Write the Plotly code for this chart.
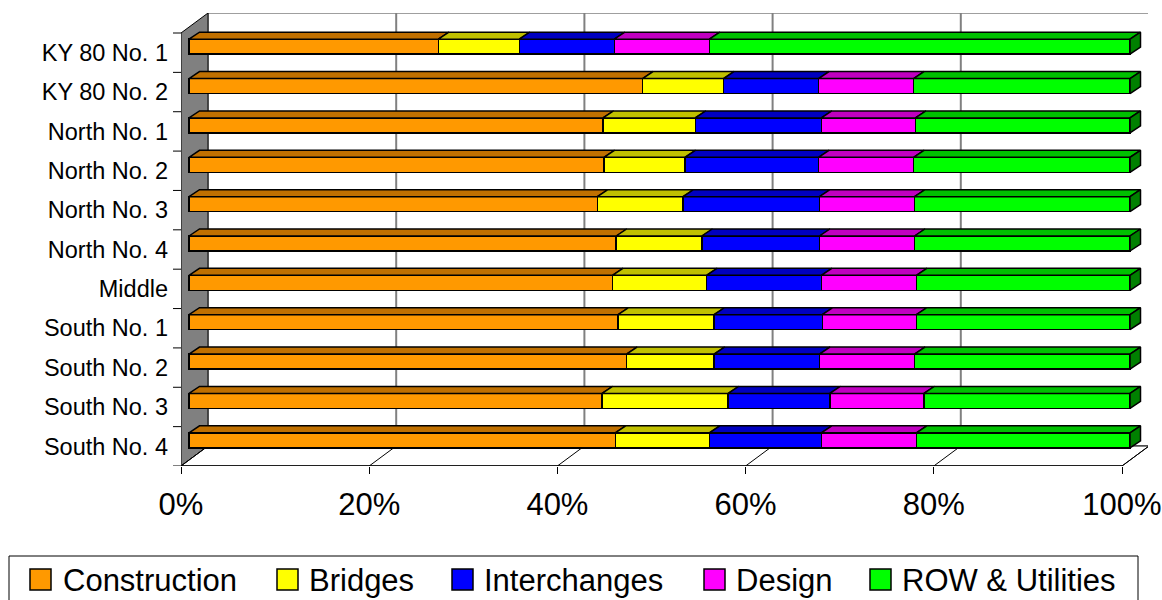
import plotly.graph_objects as go

# ---------------- data ----------------
categories = ["KY 80 No. 1", "KY 80 No. 2", "North No. 1", "North No. 2", "North No. 3",
              "North No. 4", "Middle", "South No. 1", "South No. 2", "South No. 3", "South No. 4"]
construction = [26.5, 48.2, 44.0, 44.1, 43.4, 45.4, 45.0, 45.6, 46.5, 43.9, 45.3]
bridges = [8.6, 8.6, 9.8, 8.6, 9.1, 9.1, 10.0, 10.2, 9.3, 13.4, 10.0]
interchanges = [10.1, 10.1, 13.4, 14.2, 14.5, 12.5, 12.2, 11.5, 11.2, 10.8, 11.9]
design = [10.1, 10.1, 10.0, 10.1, 10.1, 10.1, 10.1, 10.0, 10.1, 10.0, 10.1]
row_utilities = [44.7, 23.0, 22.8, 23.0, 22.9, 22.9, 22.7, 22.7, 22.9, 21.9, 22.7]
series_names = ["Construction", "Bridges", "Interchanges", "Design", "ROW & Utilities"]
x_tick_values = [0, 20, 40, 60, 80, 100]
x_tick_labels = ["0%", "20%", "40%", "60%", "80%", "100%"]

# ---------------- styling ----------------
series_values = [construction, bridges, interchanges, design, row_utilities]
front_colors = ["#FF9900", "#FFFF00", "#0000FF", "#FF00FF", "#00FF00"]
top_colors = ["#C07000", "#C0C000", "#0000C0", "#C000C0", "#00C000"]
side_color = "#008000"
FONT = "Liberation Sans, Arial, sans-serif"

W, H = 1162, 600
PL, PR, PT, PB = 181, 1148, 13, 466          # plot area in pixels
SX = 9.41                                    # px per percent
n = len(categories)
XMAX = (PR - PL) / SX
BX = 27 / SX                                 # back-wall depth offset (x units)
BY_PX = 20
SYU = (PB - PT - BY_PX) / n                  # px per category unit on front plane
BY = BY_PX / SYU
YMAX = n + BY
FX = 8 / SX                                  # bar front-face depth shift
FY = 6 / SYU
DX = 10.5 / SX                               # bar depth
DY = 7 / SYU
BW = 15 / SYU                                # bar thickness

ypos = [n - 1 - i + 0.5 for i in range(n)]   # bar centre positions (top row first)

fig = go.Figure()

# front faces (stacked bars)
for name, vals, col in zip(series_names, series_values, front_colors):
    fig.add_trace(go.Bar(
        x=vals, y=ypos, orientation="h", name=name, width=BW,
        marker=dict(color=col, line=dict(color="black", width=1.5)),
        xaxis="x2", yaxis="y2", showlegend=False,
        hovertemplate="%{x:.1f}%<extra>" + name + "</extra>"))

# top faces
cum = [0.0] * n
for si, (name, vals, topc) in enumerate(zip(series_names, series_values, top_colors)):
    xs, ys = [], []
    for k in range(n):
        x0 = cum[k]
        x1 = x0 + vals[k]
        yt = ypos[k] + BW / 2
        xs += [x0, x1, x1 + DX, x0 + DX, x0, None]
        ys += [yt, yt, yt + DY, yt + DY, yt, None]
        cum[k] = x1
    fig.add_trace(go.Scatter(
        x=xs, y=ys, mode="lines", fill="toself", fillcolor=topc,
        line=dict(color="black", width=1.5), xaxis="x2", yaxis="y2",
        hoverinfo="skip", showlegend=False))

# right side faces of the last segment
xs, ys = [], []
for k in range(n):
    xe = cum[k]
    yb = ypos[k] - BW / 2
    yt = ypos[k] + BW / 2
    xs += [xe, xe, xe + DX, xe + DX, xe, None]
    ys += [yb, yt, yt + DY, yb + DY, yb, None]
fig.add_trace(go.Scatter(
    x=xs, y=ys, mode="lines", fill="toself", fillcolor=side_color,
    line=dict(color="black", width=1.5), xaxis="x2", yaxis="y2",
    hoverinfo="skip", showlegend=False))

# ---------------- frame shapes ----------------
shapes = []
# back wall
shapes.append(dict(type="rect", xref="x", yref="y", x0=BX, x1=100 + BX, y0=BY, y1=n + BY,
                   fillcolor="white", line=dict(color="#404040", width=1), layer="below"))
for v in x_tick_values[1:-1]:
    shapes.append(dict(type="line", xref="x", yref="y", x0=v + BX, x1=v + BX, y0=BY, y1=n + BY,
                       line=dict(color="#808080", width=2), layer="below"))
# left wall
shapes.append(dict(type="path", xref="x", yref="y",
                   path=f"M 0,0 L 0,{n} L {BX},{n + BY} L {BX},{BY} Z",
                   fillcolor="#808080", line=dict(color="black", width=1), layer="below"))
# floor
shapes.append(dict(type="path", xref="x", yref="y",
                   path=f"M 0,0 L {BX},{BY} L {100 + BX},{BY} L 100,0 Z",
                   fillcolor="white", line=dict(color="black", width=1), layer="below"))
for v in x_tick_values:
    shapes.append(dict(type="line", xref="x", yref="y", x0=v, x1=v + BX, y0=0, y1=BY,
                       line=dict(color="black", width=1), layer="below"))
shapes.append(dict(type="line", xref="x", yref="y", x0=0, x1=100, y0=0, y1=0,
                   line=dict(color="black", width=1.5), layer="below"))
# category boundary ticks on the left
for k in range(n + 1):
    shapes.append(dict(type="line", xref="paper", yref="y", x0=-8 / (PR - PL), x1=0, y0=k, y1=k,
                       line=dict(color="black", width=1)))

# ---------------- legend (drawn) ----------------
def pxx(px):
    return (px - PL) / (PR - PL)

def pxy(py):
    return (PB - py) / (PB - PT)

shapes.append(dict(type="rect", xref="paper", yref="paper", x0=pxx(9), x1=pxx(1138),
                   y0=pxy(614), y1=pxy(556), fillcolor="white", line=dict(color="black", width=1)))
sq_left = [30, 277, 452, 704, 870]
txt_left = [63, 309, 484, 736, 902]
annotations = []
for name, col, sx, tx in zip(series_names, front_colors, sq_left, txt_left):
    shapes.append(dict(type="rect", xref="paper", yref="paper", x0=pxx(sx), x1=pxx(sx + 21),
                       y0=pxy(590), y1=pxy(569), fillcolor=col, line=dict(color="black", width=1.5)))
    annotations.append(dict(xref="paper", yref="paper", x=pxx(tx - 2), y=pxy(580), text=name,
                            showarrow=False, xanchor="left", yanchor="middle",
                            font=dict(family=FONT, size=31, color="black")))

fig.update_layout(
    width=W, height=H, autosize=False,
    margin=dict(l=PL, r=W - PR, t=PT, b=H - PB, pad=0, autoexpand=False),
    paper_bgcolor="white", plot_bgcolor="rgba(0,0,0,0)",
    barmode="stack", showlegend=False,
    font=dict(family=FONT, color="black"),
    xaxis=dict(range=[0, XMAX], tickvals=x_tick_values, ticktext=x_tick_labels,
               ticks="outside", ticklen=7, tickcolor="black", tickwidth=1,
               showgrid=False, zeroline=False, showline=False, automargin=False,
               tickfont=dict(family=FONT, size=31, color="black"), ticklabelstandoff=4,
               fixedrange=True),
    yaxis=dict(range=[0, YMAX], tickvals=[j + 0.5 for j in range(n)],
               ticktext=list(reversed(categories)), ticks="", automargin=False,
               showgrid=False, zeroline=False, showline=False,
               tickfont=dict(family=FONT, size=23.5, color="black"), ticklabelstandoff=12,
               fixedrange=True),
    xaxis2=dict(range=[-FX, XMAX - FX], overlaying="x", anchor="y2", visible=False,
                automargin=False, fixedrange=True),
    yaxis2=dict(range=[-FY, YMAX - FY], overlaying="y", anchor="x2", visible=False,
                automargin=False, fixedrange=True),
    shapes=shapes, annotations=annotations,
)

fig.write_html("out.html")
